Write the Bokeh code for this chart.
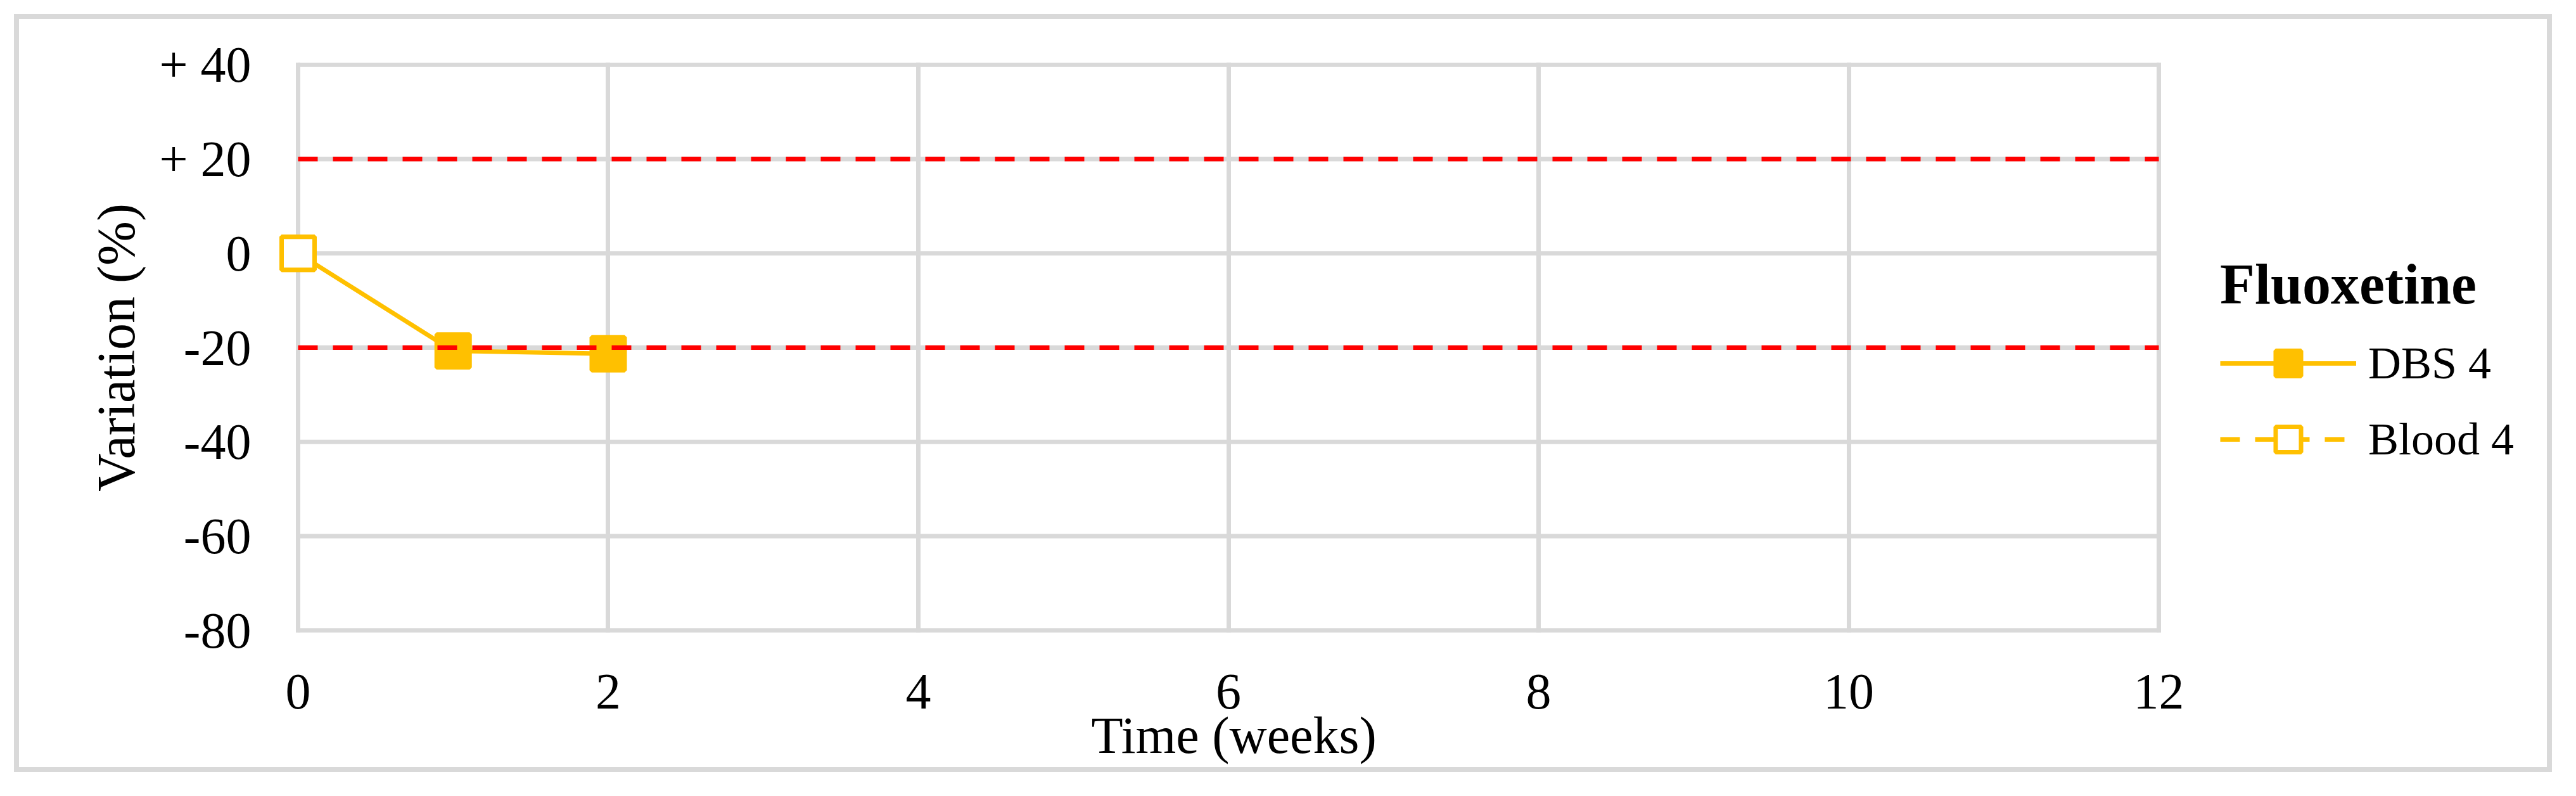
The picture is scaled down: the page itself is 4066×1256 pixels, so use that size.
from bokeh.plotting import figure
from bokeh.models import Range1d, FixedTicker, Legend, LegendItem, Title
from bokeh.embed import file_html
from bokeh.resources import INLINE

# ---- data ----
weeks_dbs = [0, 1, 2]
dbs4 = [0.0, -20.7, -21.3]
weeks_blood = [0]
blood4 = [0.0]
limits = [20, -20]
x_ticks = [0, 2, 4, 6, 8, 10, 12]
y_ticks = [-80, -60, -40, -20, 0, 20, 40]
y_tick_labels = {-80: "-80", -60: "-60", -40: "-40", -20: "-20", 0: "0", 20: "+ 20", 40: "+ 40"}
series_labels = ["DBS 4", "Blood 4"]
legend_title = "Fluoxetine"
x_title = "Time (weeks)"
y_title = "Variation (%)"

GOLD = "#FFC000"
GRID = "#D9D9D9"
RED = "#FF0000"
FONT = "Liberation Serif"

# frame extends to the right edge so the legend (inside it) is not clipped;
# nothing is drawn right of week 12.
p = figure(width=4050, height=1240, output_backend="svg", toolbar_location=None,
           x_range=Range1d(-0.1307, 14.627), y_range=Range1d(-80.5, 40.5),
           min_border_left=438, min_border_right=0, min_border_top=98,
           min_border_bottom=242)
p.outline_line_color = None
p.background_fill_alpha = 0
p.border_fill_alpha = 0
# light-grey chart-area frame
p.styles = {"outline": "8px solid #D9D9D9", "outline-offset": "-30px",
            "background-color": "white"}

p.xaxis.ticker = FixedTicker(ticks=x_ticks)
p.xaxis.bounds = (x_ticks[0], x_ticks[-1])
p.yaxis.ticker = FixedTicker(ticks=y_ticks)
p.yaxis.major_label_overrides = y_tick_labels
for ax in (p.xaxis[0], p.yaxis[0]):
    ax.axis_line_color = None
    ax.major_tick_line_color = None
    ax.minor_tick_line_color = None
    ax.major_tick_out = 0
    ax.major_tick_in = 0
    ax.major_label_text_font = FONT
    ax.major_label_text_font_size = "80px"
    ax.major_label_text_color = "black"
    ax.axis_label_text_font = FONT
    ax.axis_label_text_font_style = "normal"
    ax.axis_label_text_color = "black"

p.xaxis.major_label_standoff = 66
p.yaxis.axis_label = y_title
p.yaxis.axis_label_text_font_size = "84px"
p.yaxis.major_label_standoff = 42
p.yaxis.axis_label_standoff = 18

# x-axis title, centred under weeks 0..12 (left-aligned with an offset)
xt = Title(text=x_title, align="left", vertical_align="top", offset=1284, standoff=-12,
           text_font=FONT, text_font_size="82px", text_font_style="normal",
           text_color="black")
p.add_layout(xt, "below")

# vertical grid lines from the x axis ticker
p.xgrid.grid_line_color = GRID
p.xgrid.grid_line_width = 7
# horizontal grid lines limited to the plot area (0..12 weeks)
p.ygrid.visible = False
n = len(y_ticks)
p.segment(x0=[x_ticks[0]] * n, y0=y_ticks, x1=[x_ticks[-1]] * n, y1=y_ticks,
          line_color=GRID, line_width=7)

# data series
dbs_line = p.line(weeks_dbs, dbs4, line_color=GOLD, line_width=7)
dbs_pts = p.scatter(weeks_dbs, dbs4, marker="square", size=52,
                    fill_color=GOLD, line_color=GOLD, line_width=7)
blood_line = p.line(weeks_blood, blood4, line_color=GOLD, line_width=7, line_dash="31 24")
blood_pts = p.scatter(weeks_blood, blood4, marker="square", size=52,
                      fill_color="white", line_color=GOLD, line_width=7)

# +/-20 % acceptance limits (drawn on top)
m = len(limits)
p.segment(x0=[x_ticks[0]] * m, y0=limits, x1=[x_ticks[-1]] * m, y1=limits,
          line_color=RED, line_width=7, line_dash="31 24")

legend = Legend(items=[LegendItem(label=series_labels[0], renderers=[dbs_line, dbs_pts]),
                       LegendItem(label=series_labels[1], renderers=[blood_line, blood_pts])],
                location=(3066, 255), title=legend_title)
legend.title_text_font = FONT
legend.title_text_font_size = "90px"
legend.title_text_font_style = "bold"
legend.title_text_color = "black"
legend.title_standoff = 23
legend.label_text_font = FONT
legend.label_text_font_size = "72px"
legend.label_text_color = "black"
legend.glyph_width = 215
legend.glyph_height = 100
legend.spacing = 20
legend.label_standoff = 19
legend.padding = 0
legend.margin = 0
legend.border_line_color = None
legend.background_fill_alpha = 0
p.add_layout(legend)

open("out.html", "w").write(file_html(p, INLINE))
